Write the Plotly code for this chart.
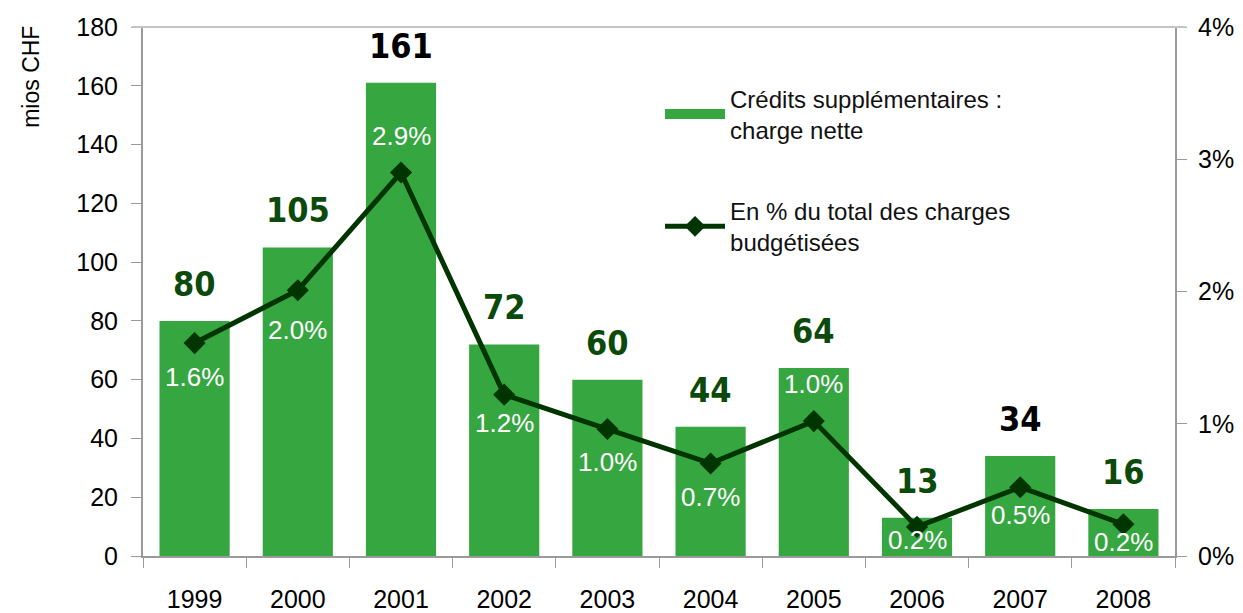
import plotly.graph_objects as go

years = [1999, 2000, 2001, 2002, 2003, 2004, 2005, 2006, 2007, 2008]
credits = [80, 105, 161, 72, 60, 44, 64, 13, 34, 16]
pct = [1.61, 2.01, 2.90, 1.22, 0.96, 0.70, 1.02, 0.22, 0.52, 0.24]
pct_labels = ["1.6%", "2.0%", "2.9%", "1.2%", "1.0%", "0.7%", "1.0%", "0.2%", "0.5%", "0.2%"]
value_label_colors = ["#0b4a0b", "#0b4a0b", "#000000", "#0b4a0b", "#0b4a0b",
                      "#0b4a0b", "#0b4a0b", "#0b4a0b", "#000000", "#0b4a0b"]
pct_label_shift = [-34, -40, 36, -28, -33, -34, 37, -13, -28, -18]

BAR = "#36a640"
LINE = "#003500"
AXIS = "#9a9a9a"
FONT = "Liberation Sans, Arial, sans-serif"
NARROW = "Liberation Sans Narrow, Arial Narrow, DejaVu Sans Condensed, sans-serif"

fig = go.Figure()
fig.add_trace(go.Bar(
    x=years, y=credits, name="Crédits supplémentaires :<br>charge nette",
    marker=dict(color=BAR, line=dict(width=0)), width=0.68, yaxis="y",
    showlegend=False,
))
# legend key for the bars (wide green swatch)
fig.add_trace(go.Scatter(
    x=[None], y=[None], name="Crédits supplémentaires :<br>charge nette",
    mode="lines", line=dict(color=BAR, width=18), legendgroup="a",
))
fig.add_trace(go.Scatter(
    x=years, y=pct, name="En % du total des charges<br>budgétisées",
    mode="lines+markers", yaxis="y2", legendgroup="b",
    line=dict(color=LINE, width=5),
    marker=dict(symbol="diamond", size=17, color=LINE),
))

annotations = []
for yr, v, c in zip(years, credits, value_label_colors):
    annotations.append(dict(
        x=yr, y=v, xref="x", yref="y", text=str(v), showarrow=False,
        yanchor="bottom", yshift=15,
        font=dict(family=NARROW, size=34, color=c, weight="bold"),
    ))
for yr, p, t, s in zip(years, pct, pct_labels, pct_label_shift):
    annotations.append(dict(
        x=yr, y=p, xref="x", yref="y2", text=t, showarrow=False,
        yanchor="middle", yshift=s,
        font=dict(family=FONT, size=26, color="white"),
    ))
annotations.append(dict(
    x=-0.108, y=0.905, xref="paper", yref="paper", text="mios CHF",
    showarrow=False, textangle=-90, xanchor="center", yanchor="middle",
    font=dict(family=FONT, size=23, color="#000000"),
))

fig.update_layout(
    width=1243, height=613,
    margin=dict(l=135, r=76, t=19, b=65),
    plot_bgcolor="white", paper_bgcolor="white",
    font=dict(family=FONT, size=24, color="#000000"),
    showlegend=True,
    legend=dict(
        x=0.501, y=0.907, xanchor="left", yanchor="top",
        bgcolor="rgba(0,0,0,0)", font=dict(family=FONT, size=24, color="#111111"),
        tracegroupgap=47, itemwidth=60,
    ),
    annotations=annotations,
    shapes=[dict(type="line", xref="paper", yref="paper", x0=-0.011, x1=1.011,
                 y0=1, y1=1, line=dict(color="#c4c4c4", width=2))],
    xaxis=dict(
        range=[1998.5, 2008.5], tickmode="array", tickvals=years,
        ticktext=[str(y) for y in years], ticks="", ticklabelstandoff=20,
        automargin=False,
        showgrid=False, zeroline=False, showline=True, linecolor=AXIS, linewidth=2,
        minor=dict(tick0=1998.5, dtick=1, ticks="outside", ticklen=10,
                   tickcolor=AXIS, tickwidth=1, showgrid=False),
        tickfont=dict(family=FONT, size=25, color="#000000"),
    ),
    yaxis=dict(
        range=[0, 180], dtick=20, showgrid=False, zeroline=False, showline=True,
        linecolor=AXIS, linewidth=2, ticks="outside", ticklen=10, tickcolor=AXIS,
        ticklabelstandoff=8, automargin=False,
        tickfont=dict(family=FONT, size=25, color="#000000"),
    ),
    yaxis2=dict(
        range=[0, 4], dtick=1, ticksuffix="%", overlaying="y", side="right",
        showgrid=False, zeroline=False, showline=True, linecolor=AXIS, linewidth=2,
        ticks="outside", ticklen=10, tickcolor=AXIS, ticklabelstandoff=6,
        automargin=False,
        tickfont=dict(family=FONT, size=25, color="#000000"),
    ),
)

fig.write_html("out.html")
